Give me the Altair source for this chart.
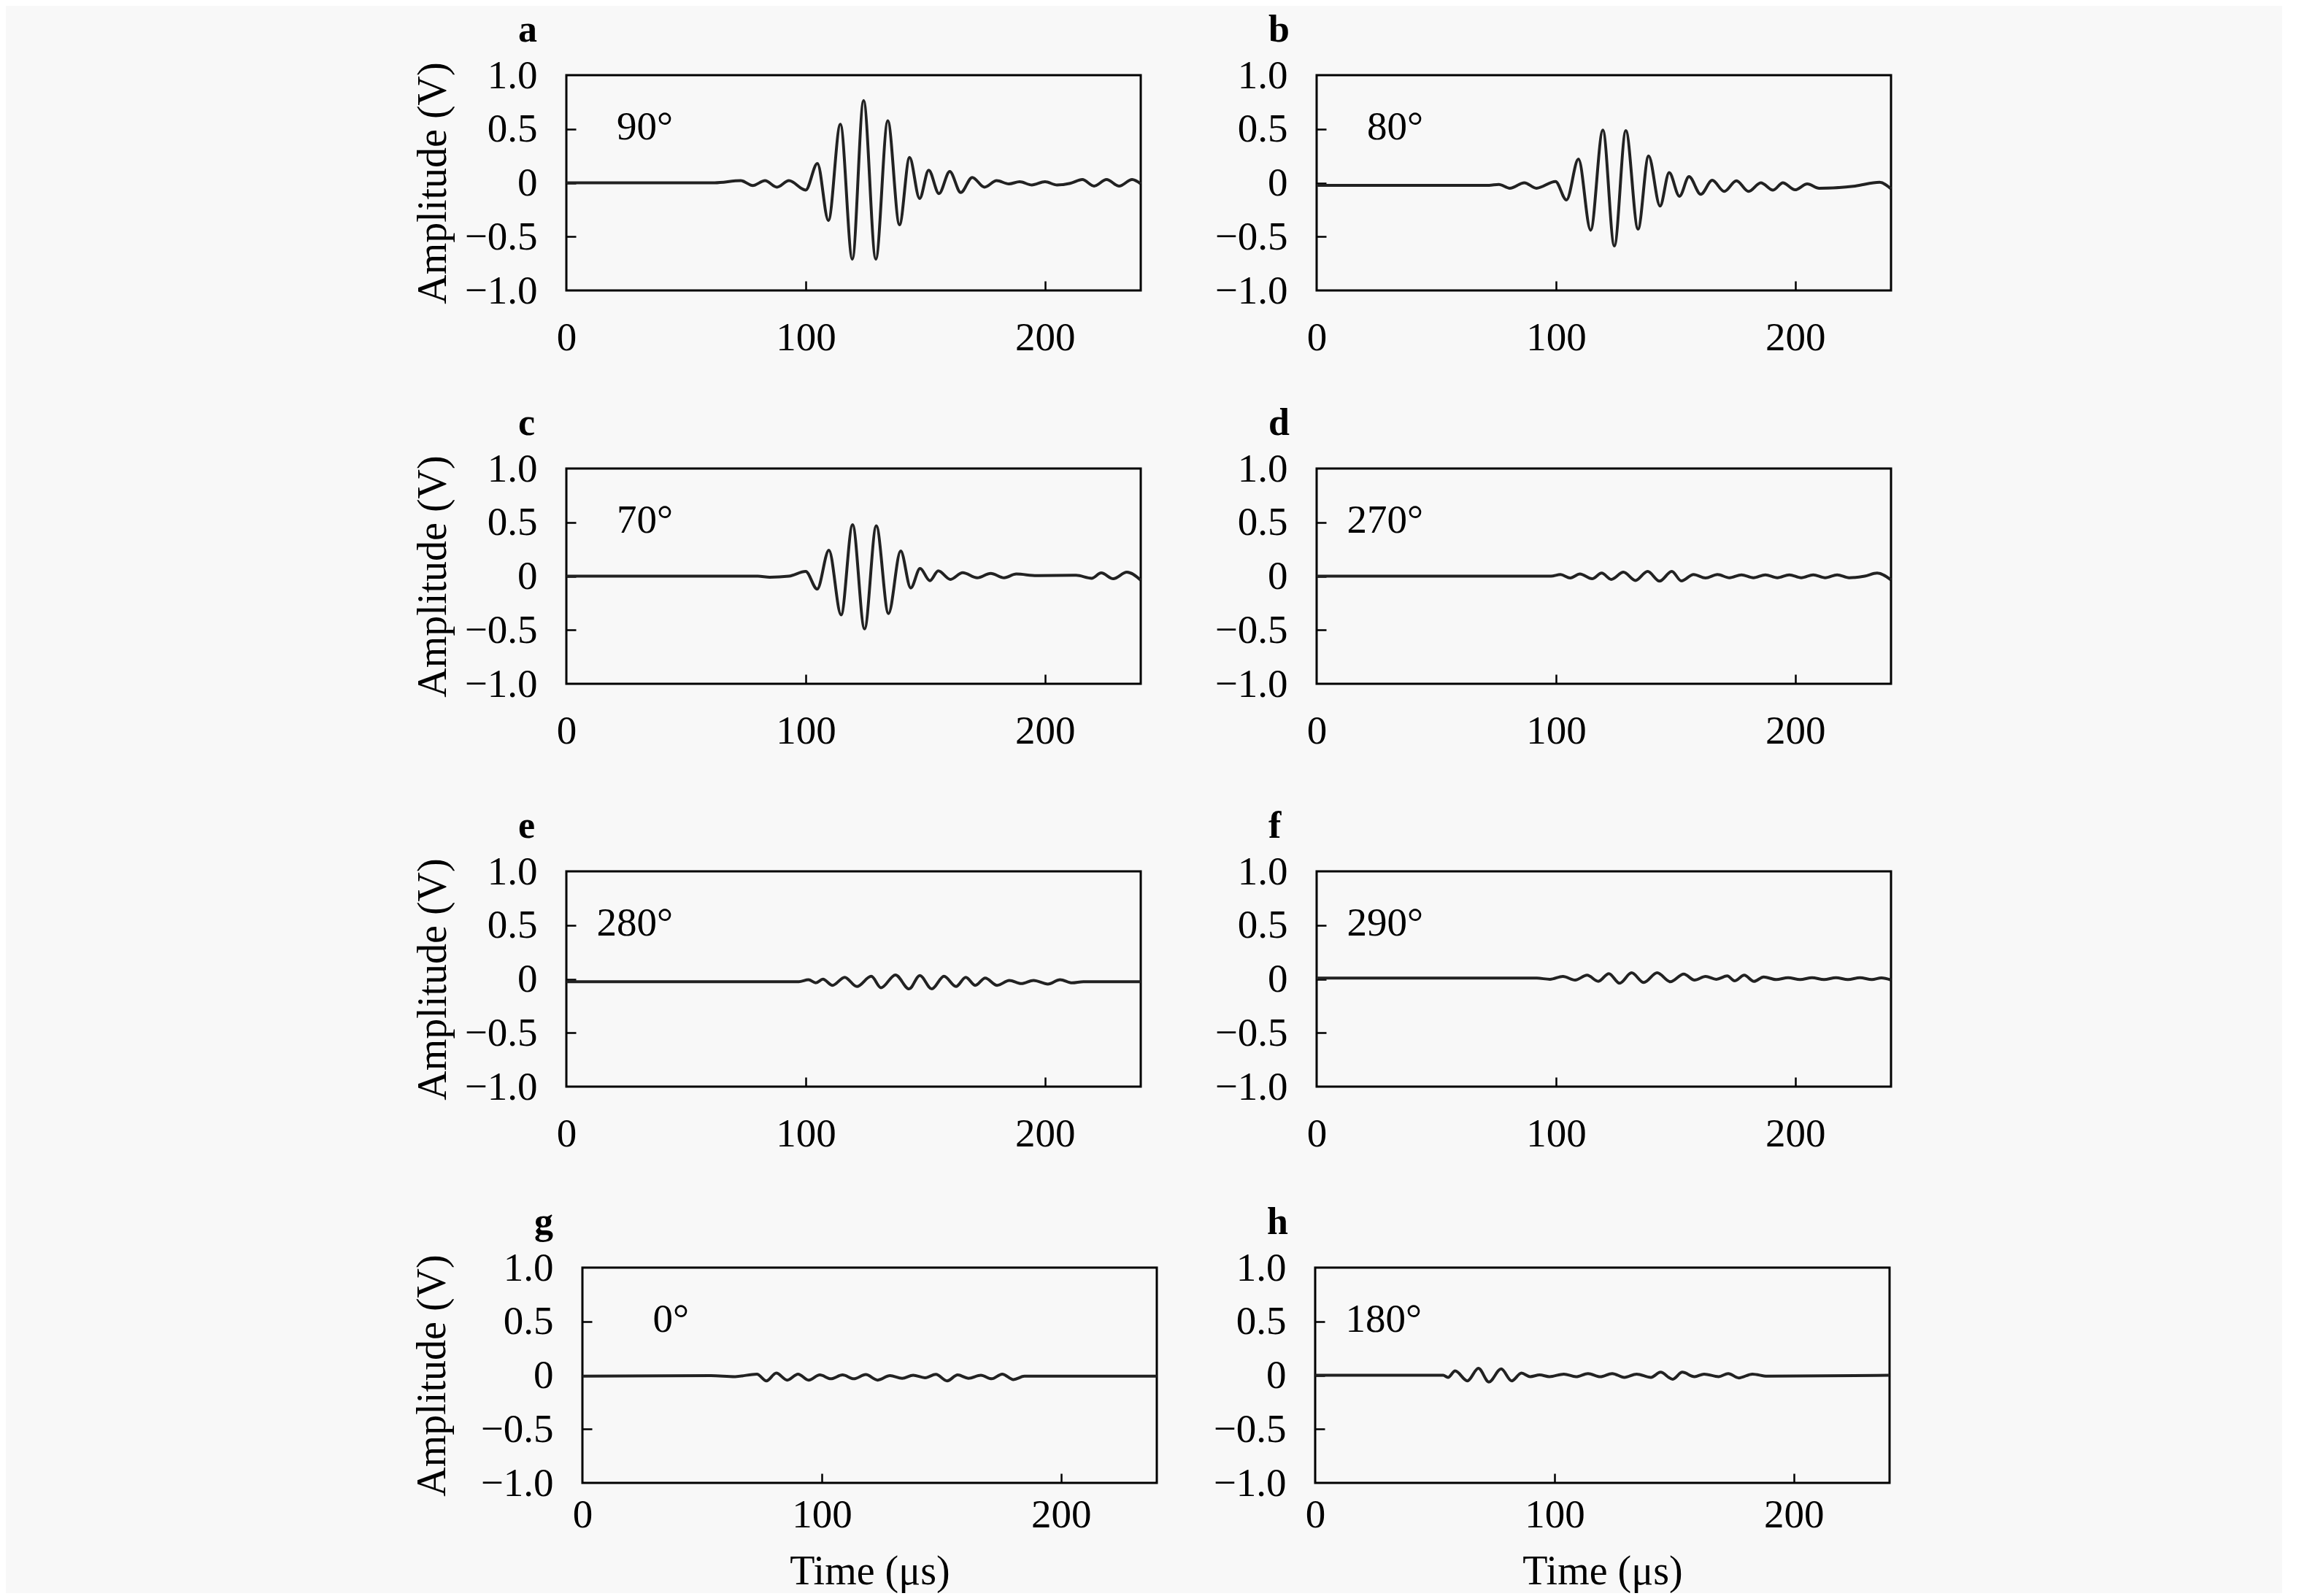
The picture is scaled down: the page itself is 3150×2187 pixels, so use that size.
import altair as alt
import pandas as pd

FONT = "Liberation Serif"

# ---------------- data ----------------
LETTERS = ["a", "b", "c", "d", "e", "f", "g", "h"]
ANGLES = ["90°", "80°", "70°", "270°", "280°", "290°", "0°", "180°"]

X_TICK_LABELS = [0, 100, 200]
Y_TICK_LABELS = [-1.0, -0.5, 0.0, 0.5, 1.0]
X_INNER_TICKS = [100, 200]
Y_INNER_TICKS = [-0.5, 0.0, 0.5]

T_A = [0, 62, 72.9, 77.9, 83.0, 88.0, 93.0, 100.0, 104.9, 109.5, 114.5, 119.5, 124.2, 129.3, 134.3,
       139.2, 143.4, 147.6, 151.4, 155.7, 160.2, 164.8, 169.6, 174.7, 179.8, 184.9, 189.4, 194.5,
       200.0, 205.0, 210.5, 215.6, 220.5, 225.7, 231.0, 236.4, 240]
A_A = [0.0, 0.0, 0.02, -0.025, 0.02, -0.04, 0.02, -0.067, 0.18, -0.35, 0.544, -0.71, 0.765, -0.71,
       0.576, -0.39, 0.235, -0.145, 0.117, -0.10, 0.105, -0.09, 0.05, -0.04, 0.02, -0.01, 0.01,
       -0.02, 0.01, -0.02, -0.005, 0.03, -0.03, 0.03, -0.03, 0.03, -0.01]

T_B = [0, 72, 76.1, 80.7, 86.8, 91.8, 99.8, 104.4, 109.4, 114.5, 119.6, 124.4, 129.2, 134.3, 138.7,
       143.5, 147.3, 151.6, 155.6, 160.5, 165.3, 170.3, 175.4, 180.5, 185.6, 190.7, 194.8, 199.9,
       205.0, 210.0, 225.0, 235.2, 240]
A_B = [-0.023, -0.023, -0.015, -0.05, 0.0, -0.05, 0.012, -0.16, 0.22, -0.44, 0.49, -0.586, 0.484,
       -0.43, 0.25, -0.216, 0.095, -0.125, 0.057, -0.107, 0.023, -0.08, 0.018, -0.08, 0.0, -0.068,
       0.0, -0.065, -0.01, -0.05, -0.03, 0.005, -0.056]

T_C = [0, 80, 85, 93, 100.0, 104.8, 109.7, 114.8, 119.6, 124.6, 129.5, 134.6, 139.7, 143.9, 147.8,
       151.9, 155.4, 160.5, 165.6, 171.7, 177.3, 182.9, 188.0, 196.5, 213.0, 219.5, 223.5, 228.5,
       234.2, 240]
A_C = [0.0, 0.0, -0.01, 0.0, 0.044, -0.12, 0.24, -0.36, 0.478, -0.49, 0.467, -0.347, 0.234, -0.11,
       0.071, -0.042, 0.049, -0.03, 0.033, -0.015, 0.026, -0.015, 0.02, 0.005, 0.008, -0.02, 0.03,
       -0.024, 0.037, -0.037]

T_D = [0, 97.9, 101.9, 106.0, 110.0, 115.1, 119.1, 123.1, 128.2, 133.2, 138.3, 143.3, 148.4, 152.4,
       157.5, 162.5, 167.5, 172.5, 177.5, 182.5, 187.5, 192.5, 197.5, 202.5, 207.5, 212.5, 217.5,
       222.5, 229.0, 234.2, 240]
A_D = [0.0, 0.0, 0.015, -0.017, 0.02, -0.024, 0.028, -0.03, 0.037, -0.04, 0.044, -0.046, 0.044,
       -0.044, 0.015, -0.017, 0.015, -0.015, 0.012, -0.015, 0.012, -0.015, 0.012, -0.015, 0.012,
       -0.015, 0.012, -0.015, 0.0, 0.028, -0.035]

T_E = [0, 97.1, 101.2, 104.2, 107.2, 111.2, 116.3, 121.4, 127.4, 131.5, 137.5, 143.2, 147.7, 152.7,
       157.8, 162.8, 166.9, 170.9, 175.0, 180.0, 185.1, 190.1, 195.2, 201.2, 206.3, 211.3, 216.0, 240]
A_E = [-0.025, -0.025, -0.007, -0.036, -0.002, -0.059, 0.016, -0.07, 0.025, -0.081, 0.038, -0.092,
       0.032, -0.092, 0.025, -0.07, 0.016, -0.059, 0.009, -0.059, -0.014, -0.043, -0.014, -0.047,
       -0.007, -0.036, -0.025, -0.025]

T_F = [0, 92.0, 97.5, 102.9, 108.0, 113.0, 117.7, 122.1, 126.6, 131.6, 136.7, 142.3, 147.8, 153.4,
       157.9, 162.5, 167.0, 171.6, 174.6, 178.7, 182.7, 186.8, 192, 197, 202, 207, 212, 217, 222,
       227, 232, 236, 240]
A_F = [0.008, 0.008, -0.003, 0.024, -0.01, 0.035, -0.022, 0.05, -0.039, 0.057, -0.033, 0.057,
       -0.026, 0.046, -0.01, 0.024, -0.003, 0.028, -0.017, 0.035, -0.022, 0.019, -0.005, 0.012,
       -0.005, 0.012, -0.005, 0.012, -0.005, 0.012, -0.005, 0.01, -0.01]

T_G = [0, 53.7, 63.8, 72.9, 76.9, 81.0, 85.6, 90.1, 94.5, 99.2, 103.8, 108.7, 113.4, 118.4, 123.4,
       128.5, 133.6, 138.2, 143.1, 147.7, 152.4, 156.8, 161.3, 166.5, 171.0, 175.4, 180.1, 184.7, 240]
A_G = [-0.009, -0.004, -0.013, 0.011, -0.052, 0.02, -0.045, 0.011, -0.045, 0.003, -0.033, 0.003,
       -0.033, 0.006, -0.045, -0.004, -0.028, 0.0, -0.023, 0.008, -0.052, 0.003, -0.028, 0.0,
       -0.033, 0.011, -0.04, -0.009, -0.009]

T_H = [0, 53.5, 55.5, 58.5, 63.6, 68.2, 72.6, 77.7, 82.1, 86.2, 89.8, 93.8, 97.9, 103.9, 109.0,
       114.0, 119.1, 124.1, 129.2, 134.3, 140.3, 144.3, 149.4, 153.4, 158.5, 162.5, 168.6, 172.6,
       177.0, 182.7, 188.8, 240]
A_H = [0.0, 0.0, -0.02, 0.04, -0.052, 0.064, -0.062, 0.059, -0.052, 0.02, -0.013, 0.003, -0.013,
       0.011, -0.013, 0.016, -0.013, 0.016, -0.02, 0.011, -0.02, 0.028, -0.037, 0.028, -0.013, 0.011,
       -0.013, 0.016, -0.025, 0.011, -0.009, 0.0]

# position of the angle label (data coordinates, right-aligned)
LABEL_T = 44.5
LABEL_A = 0.52

SERIES = [(T_A, A_A), (T_B, A_B), (T_C, A_C), (T_D, A_D),
          (T_E, A_E), (T_F, A_F), (T_G, A_G), (T_H, A_H)]

# ---------------- layout constants ----------------
W, H = 787, 295
LINE_COLOR = "#222222"
TICK_FS = 55
TITLE_FS = 56
Y_LABEL_EXPR = ("datum.value == 0 ? '0' : replace(format(datum.value, '.1f'), '-', '\u2212')")


def panel(idx, left, bottom, x_label_pad, y_title_pad):
    T, A = SERIES[idx]
    df = pd.DataFrame({"t": T, "a": A})
    lab = pd.DataFrame({"t": [LABEL_T], "a": [LABEL_A], "txt": [ANGLES[idx]]})

    xscale = alt.Scale(domain=[0, 240], nice=False, zero=False)
    yscale = alt.Scale(domain=[-1, 1], nice=False)

    xaxis_kw = dict(values=X_TICK_LABELS, format="d", labelFont=FONT, labelFontSize=TICK_FS,
                    labelColor="black", labelPadding=x_label_pad, ticks=False, tickSize=0,
                    domain=False, grid=False, labelFlush=False, orient="bottom",
                    maxExtent=500)
    if bottom:
        xaxis_kw.update(titleFont=FONT, titleFontSize=TITLE_FS, titleFontWeight="normal",
                        titleColor="black", titlePadding=23)
    yaxis_kw = dict(values=Y_TICK_LABELS, labelExpr=Y_LABEL_EXPR, labelFont=FONT,
                    labelFontSize=TICK_FS, labelColor="black", labelPadding=40, ticks=False,
                    tickSize=0, domain=False, grid=False, labelFlush=False, orient="left",
                    maxExtent=500)
    if left:
        yaxis_kw.update(titleFont=FONT, titleFontSize=TITLE_FS, titleFontWeight="normal",
                        titleColor="black", titlePadding=y_title_pad)

    line = alt.Chart(df).mark_line(
        interpolate="monotone", color=LINE_COLOR, strokeWidth=4, strokeJoin="round"
    ).encode(
        x=alt.X("t:Q", scale=xscale, axis=alt.Axis(**xaxis_kw),
                title="Time (\u03bcs)" if bottom else None),
        y=alt.Y("a:Q", scale=yscale, axis=alt.Axis(**yaxis_kw),
                title="Amplitude (V)" if left else None),
    )

    # inward-pointing ticks: extra axes moved onto the opposite frame edge
    text = alt.Chart(lab).mark_text(
        align="right", baseline="middle", font=FONT, fontSize=TICK_FS, color="black"
    ).encode(
        x=alt.X("t:Q", scale=xscale, title=None,
                axis=alt.Axis(orient="top", offset=-H, values=X_INNER_TICKS, labels=False,
                              domain=False, grid=False, ticks=True, tickSize=13,
                              tickWidth=2.5, tickColor="black", minExtent=0, maxExtent=0)),
        y=alt.Y("a:Q", scale=yscale, title=None,
                axis=alt.Axis(orient="right", offset=-W, values=Y_INNER_TICKS, labels=False,
                              domain=False, grid=False, ticks=True, tickSize=13,
                              tickWidth=2.5, tickColor="black", minExtent=0, maxExtent=0)),
        text="txt:N",
    )

    return alt.layer(line, text).resolve_axis(x="independent", y="independent").properties(
        width=W, height=H,
        title=alt.TitleParams(text=LETTERS[idx], anchor="start", frame="group", font=FONT,
                              fontSize=52, fontWeight="bold", color="black", dx=-66,
                              offset=-33, baseline="alphabetic"),
    )


def spacer(w):
    # invisible, empty leading cell so that rows align on their left edge
    return alt.Chart(pd.DataFrame({"t": [0]})).mark_point(opacity=0).encode(
        x=alt.X("t:Q", axis=None), y=alt.Y("t:Q", axis=None)
    ).properties(width=w, height=1,
                 view=alt.ViewBackground(stroke="transparent", fill="transparent"))


pa = panel(0, True, False, 38, 14)
pb = panel(1, False, False, 38, 14)
pc = panel(2, True, False, 38, 14)
pd_ = panel(3, False, False, 38, 14)
pe = panel(4, True, False, 38, 14)
pf = panel(5, False, False, 38, 14)
pg = panel(6, True, True, 17, 37)
ph = panel(7, False, True, 17, 14)

row1 = alt.hconcat(spacer(1), pa, pb, spacing=95)
row2 = alt.hconcat(spacer(1), pc, pd_, spacing=95)
row3 = alt.hconcat(spacer(1), pe, pf, spacing=95)
row4 = alt.hconcat(spacer(26), pg, ph, spacing=71)

top = alt.vconcat(row1, row2, spacing=60)
bottom = alt.vconcat(row3, row4, spacing=64)
chart = alt.vconcat(top, bottom, spacing=73).configure(
    background="#f8f8f8",
    padding={"left": 451, "top": 5, "right": 532, "bottom": 0},
).configure_view(
    stroke="black", strokeWidth=3, fill="#f8f8f8"
)

chart.save("out.html", embed_options={"renderer": "svg", "actions": False})
